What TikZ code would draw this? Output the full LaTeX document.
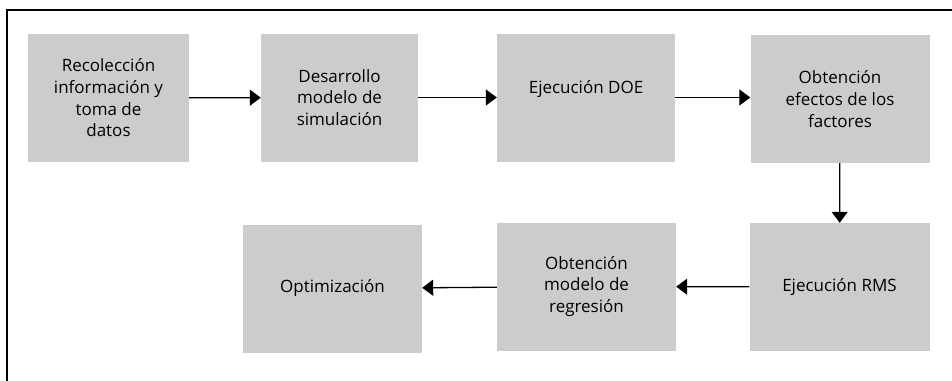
\documentclass[tikz,border=0pt]{standalone}
\usepackage{fontspec}
\setmainfont{Open Sans}
\usepackage{tikz}
\usetikzlibrary{arrows.meta}
\definecolor{boxgray}{HTML}{CCCCCC}
\tikzset{
    stepbox/.style={shape=rectangle, fill=boxgray, align=center,
        font=\fontsize{17}{21.7}\selectfont, inner sep=0pt,
        minimum width=179pt, minimum height=128pt},
    flow/.style={line width=1.3pt, -{Triangle[length=11pt,width=16pt]}}}

\begin{document}
\begin{tikzpicture}[x=1pt, y=-1pt]

            \useasboundingbox (0,0) rectangle (952,380);
            \draw[line width=1.3pt] (960,10) -- (7,10) -- (7,390);

            \node[stepbox, minimum width=161pt] (A) at (108.5,98) {Recolección\\información y\\toma de\\datos};
            \node[stepbox, minimum width=157pt] (B) at (339.5,97.5) {Desarrollo\\modelo de\\simulación};
            \node[stepbox, minimum width=178pt] (C) at (586,97.5) {Ejecución DOE\\~};
            \node[stepbox] (D) at (840,99) {Obtención\\efectos de los\\factores};
            \node[stepbox, minimum width=180pt] (E) at (839.5,287) {Ejecución RMS};
            \node[stepbox] (F) at (586.5,286.5) {Obtención\\modelo de\\regresión};
            \node[stepbox] (G) at (332.5,288.5) {Optimización};

            \draw[flow] (A) -- (B);
            \draw[flow] (B) -- (C);
            \draw[flow] (C) -- (C -| D.west);
            \draw[flow] (D) -- (E);
            \draw[flow] (E) -- (F);
            \draw[flow] (F) -- (G);

        \end{tikzpicture}
\end{document}
